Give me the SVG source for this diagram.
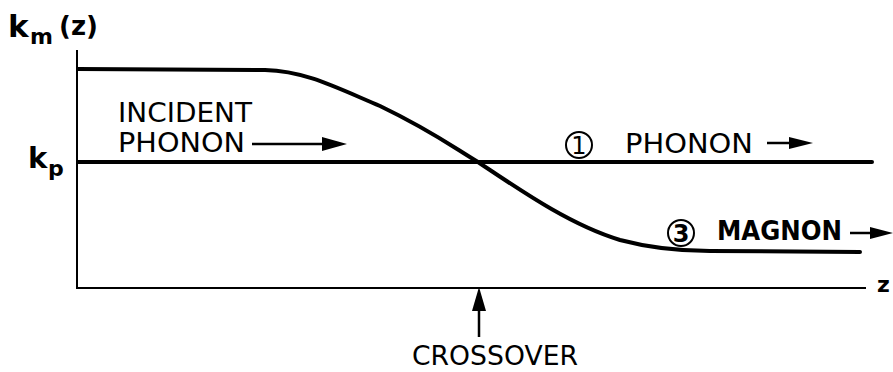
<svg xmlns="http://www.w3.org/2000/svg" width="893" height="372" viewBox="0 0 893 372">
<style>
text{font-family:"DejaVu Sans","Liberation Sans",Arial,sans-serif;fill:#000}
.lbl{font-size:26px}
.b{font-weight:bold}
.thick{fill:none;stroke:#000;stroke-width:4;stroke-linecap:round}
.thin{fill:none;stroke:#000;stroke-width:2}
.arr{fill:none;stroke:#000;stroke-width:2.5}
.ah{fill:#000}
.circ{fill:none;stroke:#000;stroke-width:2}
</style>
<rect width="893" height="372" fill="#fff"/>
<g id="axes">
<path class="thin" d="M77,50 L77,288 L866,288"/>
<text class="b" x="8" y="37" font-size="31">k</text>
<text class="b" x="30" y="44" font-size="22">m</text>
<text class="b" x="59" y="35" font-size="26">(z)</text>
<text class="b" x="28" y="168" font-size="29">k</text>
<text class="b" x="48" y="176" font-size="22">p</text>
<text class="b" x="877" y="292" font-size="22">z</text>
</g>
<g id="connectors">
<path id="magnon-curve" class="thick" d="M78,69 L265,70 C305,71 335,87 380,106 C430,130 450,145 478,162 C520,190 570,225 620,240 C650,248 680,251 710,251 L860,252"/>
<path id="phonon-line" class="thick" d="M78,162 L872,162"/>
<path class="arr" d="M252,144 L328,144"/>
<polygon class="ah" points="322,137 347,144 322,151"/>
<path class="arr" d="M767,143 L795,143"/>
<polygon class="ah" points="789,137 813,143 789,149"/>
<path class="arr" d="M850,233 L875,233"/>
<polygon class="ah" points="870,227 893,233 870,239"/>
<path class="arr" d="M479,337 L479,305"/>
<polygon class="ah" points="472,311 479,287 486,311"/>
</g>
<g id="incident">
<text class="lbl" x="118" y="122" textLength="134" lengthAdjust="spacingAndGlyphs">INCIDENT</text>
<text class="lbl" x="118" y="152" textLength="127" lengthAdjust="spacingAndGlyphs">PHONON</text>
</g>
<g id="phonon-out">
<circle class="circ" cx="579" cy="145" r="13"/>
<text x="579" y="154" font-size="24" text-anchor="middle">1</text>
<text class="lbl" x="625" y="153" textLength="128" lengthAdjust="spacingAndGlyphs">PHONON</text>
</g>
<g id="magnon-out">
<circle class="circ" cx="681" cy="233" r="13"/>
<text class="b" x="681" y="242" font-size="24" text-anchor="middle">3</text>
<text class="lbl b" x="717" y="240" textLength="125" lengthAdjust="spacingAndGlyphs">MAGNON</text>
</g>
<g id="crossover">
<text x="412" y="365" font-size="27" textLength="166" lengthAdjust="spacingAndGlyphs">CROSSOVER</text>
</g>
</svg>
